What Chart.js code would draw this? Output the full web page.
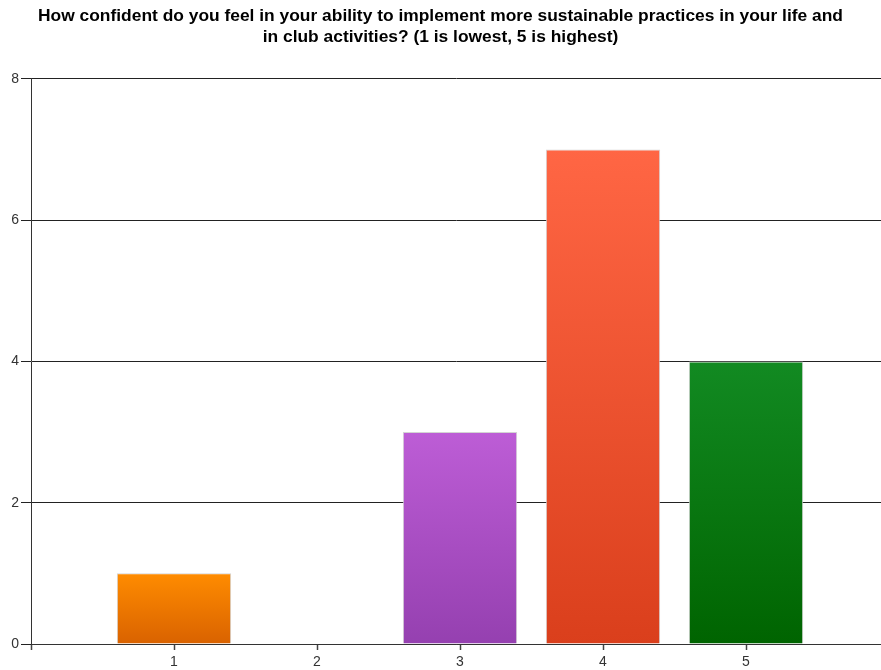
<!DOCTYPE html>
<html>
<head>
<meta charset="utf-8">
<script src="https://cdn.jsdelivr.net/npm/chart.js@4"></script>
<style>
  html, body { margin: 0; padding: 0; background: #fff; }
  #wrap { width: 881px; height: 670px; }
</style>
</head>
<body>
<div id="wrap"><canvas id="conf-chart"></canvas></div>
<script>
// survey answers, 1 = lowest confidence, 5 = highest
const ratings = [1, 2, 3, 4, 5];
const counts = [1, 0, 3, 7, 4];
const yTicks = [0, 2, 4, 6, 8];
const topColors = ['#ff8c00', '#ff8c00', '#bd5dd6', '#ff6644', '#128a22'];
const bottomColors = ['#d96200', '#d96200', '#9540b0', '#da3f1c', '#006400'];

const titleLines = [
    'How confident do you feel in your ability to implement more sustainable practices in your life and',
    'in club activities? (1 is lowest, 5 is highest)'
];

const canvas = document.querySelector('#conf-chart');

const barFill = (ctx) => {
    const chart = ctx.chart;
    const i = ctx.dataIndex;
    if (i === undefined || !chart.scales.y) return topColors[0];
    const y = chart.scales.y;
    const top = y.getPixelForValue(counts[i]);
    const bottom = y.getPixelForValue(0);
    if (!isFinite(top) || top === bottom) return topColors[i];
    const g = chart.ctx.createLinearGradient(0, top, 0, bottom);
    g.addColorStop(0, topColors[i]);
    g.addColorStop(1, bottomColors[i]);
    return g;
};

new Chart(canvas.getContext('2d'), {
    type: 'bar',
    data: {
        datasets: [{
            data: ratings.map((r, i) => ({ x: r, y: counts[i] })),
            backgroundColor: barFill,
            borderColor: '#d4d4d4',
            borderWidth: 1,
            categoryPercentage: 1,
            barPercentage: 0.8
        }]
    },
    options: {
        responsive: true,
        maintainAspectRatio: false,
        animation: false,
        layout: { padding: { left: 0, right: 0, top: 0, bottom: 0 } },
        plugins: {
            legend: { display: false },
            tooltip: { enabled: false },
            title: {
                display: true,
                text: titleLines,
                color: '#000',
                font: { family: 'Liberation Sans, Arial, sans-serif', size: 17.4, weight: 'bold', lineHeight: 1.2 },
                padding: { top: 6, bottom: 31 }
            }
        },
        scales: {
            x: {
                type: 'linear',
                offset: false,
                min: 0,
                max: 5.944,
                afterFit: (scale) => { scale.height = 26; },
                border: { display: true, color: '#333', width: 1 },
                grid: {
                    display: true, offset: false, drawOnChartArea: false, drawTicks: true,
                    tickLength: 6, color: '#333', tickColor: '#444', tickWidth: 1.5
                },
                ticks: {
                    stepSize: 1,
                    includeBounds: false,
                    autoSkip: false,
                    color: '#333',
                    padding: 4,
                    font: { family: 'Liberation Sans, Arial, sans-serif', size: 14 },
                    maxRotation: 0,
                    callback: (v) => (ratings.includes(v) ? String(v) : '')
                }
            },
            y: {
                min: 0,
                max: 8,
                afterBuildTicks: (scale) => { scale.ticks = yTicks.map(v => ({ value: v })); },
                afterFit: (scale) => { scale.width = 31; },
                border: { display: true, color: '#333', width: 1 },
                grid: { color: '#222', lineWidth: 1, tickLength: 10 },
                ticks: {
                    color: '#333',
                    padding: 2,
                    font: { family: 'Liberation Sans, Arial, sans-serif', size: 14 }
                }
            }
        }
    }
});
</script>
</body>
</html>
